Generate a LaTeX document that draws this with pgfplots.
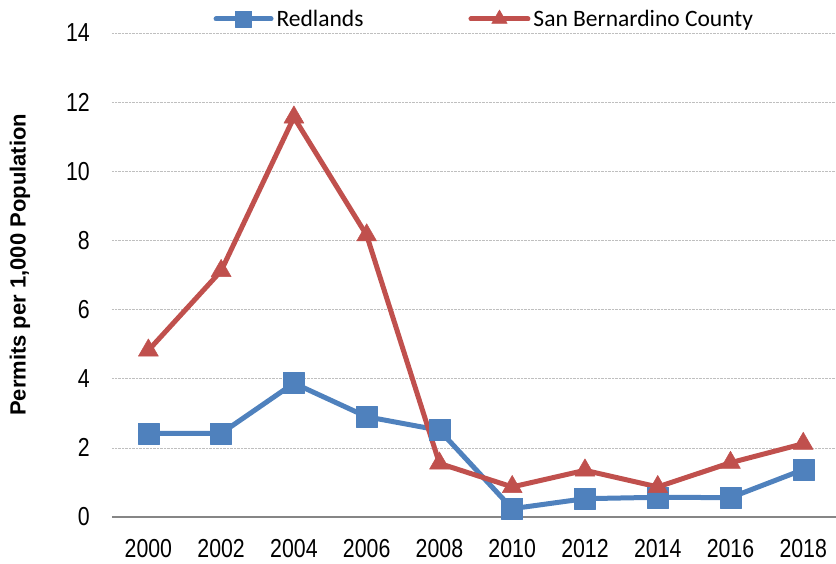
\documentclass[border=0pt]{standalone}
\usepackage{fontspec}
\setmainfont{Carlito}
\newfontfamily\narrowfont[FakeStretch=0.82]{Liberation Sans}
\newfontfamily\labelfont{Liberation Sans}
\usepackage{pgfplots}
\pgfplotsset{compat=1.18}
\definecolor{cblue}{HTML}{4F81BD}
\definecolor{cred}{HTML}{C0504D}
\definecolor{cgrid}{HTML}{BFBFBF}
\definecolor{caxis}{HTML}{868686}
\pgfplotsset{
  blueleg/.style={legend image code/.code={\draw[##1, line cap=round] (0pt,0pt) -- (55pt,0pt); \draw[##1, mark size=8pt] plot coordinates {(27.5pt,0pt)};}},
  redleg/.style={legend image code/.code={\draw[##1, line cap=round] (0pt,0pt) -- (57pt,0pt); \draw[##1, mark size=9pt] plot coordinates {(28.5pt,0pt)};}},
}
\begin{document}
\begin{tikzpicture}
\begin{axis}[
  scale only axis, width=724pt, height=484pt,
  xmin=1999, xmax=2018.9, ymin=0, ymax=14,
  xtick={2000,2002,...,2018}, ytick={0,2,...,14},
  separate axis lines,
  axis x line*=bottom, axis y line*=left,
  x axis line style={draw=caxis, line width=1.5pt, -},
  y axis line style={draw=none, -},
  major tick length=0pt,
  ymajorgrids, grid style={cgrid, densely dotted, line width=0.7pt},
  /pgf/number format/assume math mode=true,
  /pgf/number format/1000 sep={},
  xticklabel style={font=\narrowfont\fontsize{26}{30}\selectfont, inner sep=0pt, anchor=north, yshift=-22pt},
  yticklabel style={font=\narrowfont\fontsize{26}{30}\selectfont, inner sep=0pt, anchor=east, xshift=-22pt},
  ylabel={Permits per 1,000 Population},
  ylabel style={font=\labelfont\bfseries\fontsize{22}{26}\selectfont, at={(axis description cs:-0.127,0.521)}, anchor=center},
  legend columns=2,
  legend style={at={(axis description cs:0.140,1)}, anchor=west, yshift=14pt, draw=none, fill=none,
    font=\fontsize{23.5}{27}\selectfont, inner sep=0pt,
    nodes={inner sep=1pt},
    /tikz/every odd column/.append style={column sep=2pt},
    /tikz/every even column/.append style={column sep=104pt}},
  clip=false,
]
\path (rel axis cs:0,0) coordinate (SW);
\addplot[cblue, line width=5pt, line join=round, mark=square*, mark size=10.5pt,
  mark options={fill=cblue, draw=cblue, line width=0.5pt}, blueleg]
  coordinates {(2000,2.42) (2002,2.42) (2004,3.87) (2006,2.9) (2008,2.51) (2010,0.24) (2012,0.53) (2014,0.57) (2016,0.56) (2018,1.37)};
\addlegendentry{Redlands}
\addplot[cred, line width=5pt, line join=round, mark=triangle*, mark size=11.5pt,
  mark options={fill=cred, draw=cred, line width=0.5pt}, redleg]
  coordinates {(2000,4.82) (2002,7.12) (2004,11.56) (2006,8.15) (2008,1.55) (2010,0.87) (2012,1.35) (2014,0.87) (2016,1.57) (2018,2.12)};
\addlegendentry{San Bernardino County}
\end{axis}
\pgfresetboundingbox
\path (SW) ++(-112pt,-46pt) rectangle ++(836pt,563pt);
\end{tikzpicture}
\end{document}
